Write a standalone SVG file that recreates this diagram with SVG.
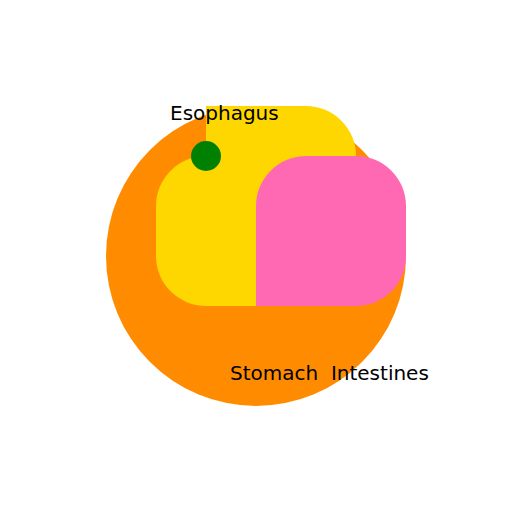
<svg xmlns="http://www.w3.org/2000/svg" width="512" height="512" viewBox="0 0 512 512">
<style>
.lbl{font-family:"DejaVu Sans",sans-serif;font-size:20px;fill:#000;white-space:pre}
</style>
<rect width="512" height="512" fill="#fff"/>
<g id="body">
<circle cx="256" cy="256" r="150" fill="#FF8C00"/>
</g>
<g id="stomach">
<path d="M206,106 H306 A50,50 0 0 1 356,156 V256 H206 Z" fill="#FFD700"/>
<path d="M206,156 H256 V306 H206 A50,50 0 0 1 156,256 V206 A50,50 0 0 1 206,156 Z" fill="#FFD700"/>
</g>
<g id="intestines">
<path d="M306,156 H356 A50,50 0 0 1 406,206 V256 A50,50 0 0 1 356,306 H256 V206 A50,50 0 0 1 306,156 Z" fill="#FF69B4"/>
</g>
<g id="esophagus">
<circle cx="206" cy="156" r="15" fill="#008000"/>
</g>
<g id="labels">
<text class="lbl" x="170" y="120">Esophagus</text>
<text class="lbl" x="230" y="380" xml:space="preserve">Stomach  Intestines</text>
</g>
</svg>
